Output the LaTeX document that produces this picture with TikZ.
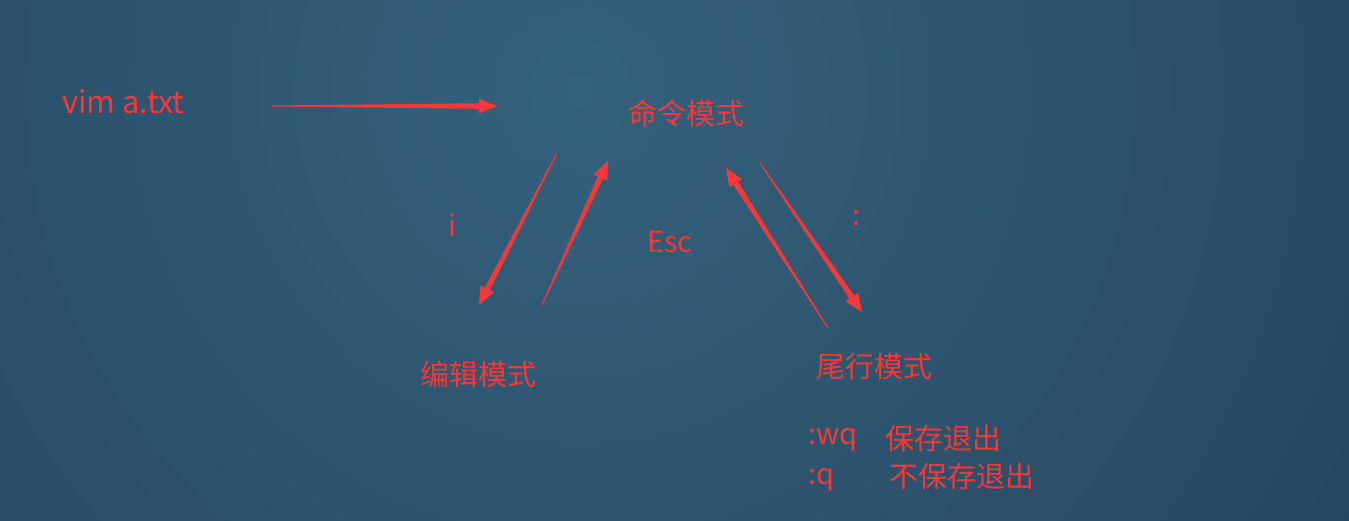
\documentclass[tikz,border=0pt]{standalone}
\usepackage{fontspec}
\usetikzlibrary{calc}
\newfontfamily\cjkfont{Noto Sans CJK SC}
\definecolor{arrowred}{RGB}{246,56,56}
\definecolor{bglight}{RGB}{52,97,124}
\definecolor{bgdark}{RGB}{28,48,74}
\newcommand{\taperarrow}[2]{%
  \path ($(#2)!18pt!(#1)$) coordinate (#2-b);
  \fill[arrowred] ($(#1)!0.5pt!90:(#2)$) -- ($(#2-b)!2.8pt!90:(#2)$) -- ($(#2-b)!7.5pt!90:(#2)$) -- (#2)
    -- ($(#2-b)!7.5pt!-90:(#2)$) -- ($(#2-b)!2.8pt!-90:(#2)$) -- ($(#1)!0.5pt!-90:(#2)$) -- cycle;
}
\tikzset{lbl/.style={text=arrowred, font=\cjkfont\fontsize{29}{34}\selectfont, inner sep=0pt}}
\begin{document}
\begin{tikzpicture}[x=1pt,y=-1pt]
\useasboundingbox (0,0) rectangle (1349,521);
\fill[bgdark] (0,0) rectangle (1349,521);
\begin{scope}
\clip (0,0) rectangle (1349,521);
\shade[inner color=bglight, outer color=bgdark] (580,90) circle (1650);
\end{scope}
% texts
\node[lbl, anchor=base west, font=\cjkfont\fontsize{31}{36}\selectfont] (vim) at (62,114) {vim a.txt};
\node[lbl] (cmd) at (686,113) {命令模式};
\node[lbl] (edit) at (478,374) {编辑模式};
\node[lbl] (last) at (874,367) {尾行模式};
\node[lbl] (ikey) at (452,225) {i};
\node[lbl, anchor=base] (esc) at (670,253) {Esc};
\node[lbl] (colon) at (857,218) {:};
\node[lbl, anchor=base west] (wq) at (808,444) {:wq};
\node[lbl] (wqt) at (943,438) {保存退出};
\node[lbl, anchor=base west] (q) at (808,484) {:q};
\node[lbl] (qt) at (962,476) {不保存退出};
% arrow endpoints
\coordinate (a1t) at (272,106);
\coordinate (a1h) at (497,106);
\coordinate (a2t) at (557,153);
\coordinate (a2h) at (479,305);
\coordinate (a3t) at (542,305);
\coordinate (a3h) at (608,161);
\coordinate (a4t) at (828,328);
\coordinate (a4h) at (726,168);
\coordinate (a5t) at (760,163);
\coordinate (a5h) at (862,312);
\taperarrow{a1t}{a1h}
\taperarrow{a2t}{a2h}
\taperarrow{a3t}{a3h}
\taperarrow{a4t}{a4h}
\taperarrow{a5t}{a5h}
\end{tikzpicture}
\end{document}
